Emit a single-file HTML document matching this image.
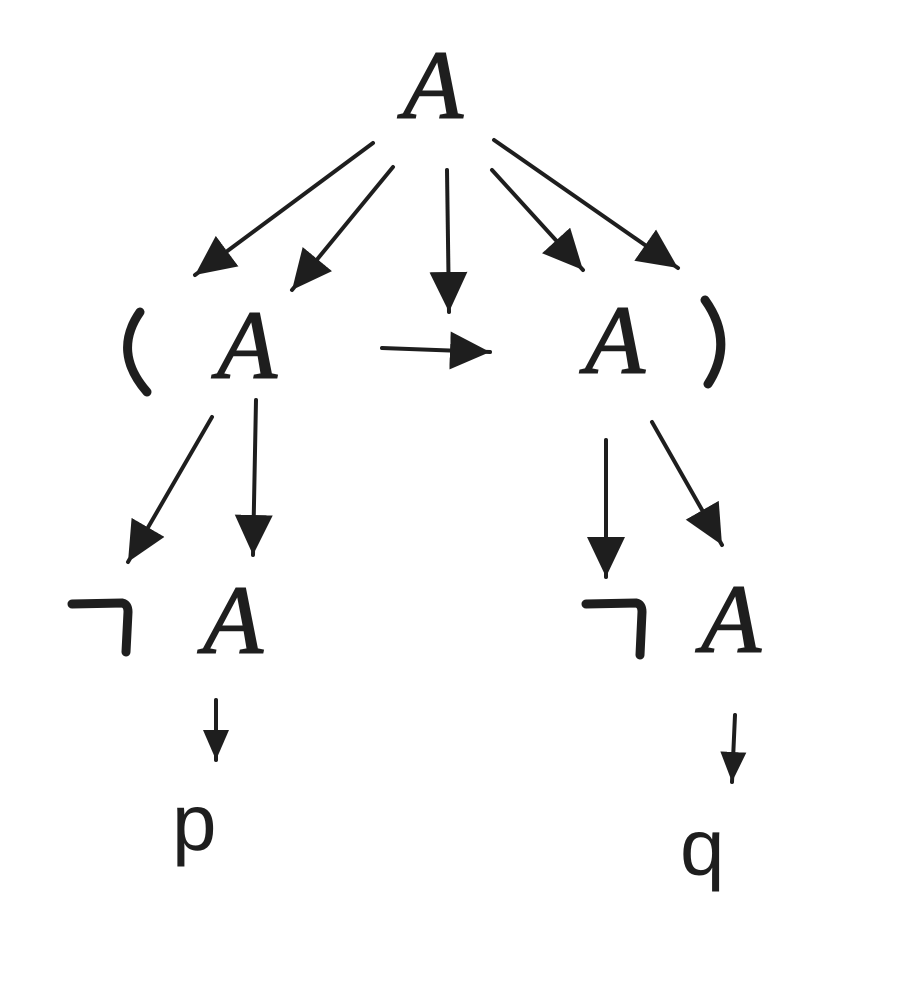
<!DOCTYPE html>
<html><head><meta charset="utf-8"><style>
html,body{margin:0;padding:0;background:#fff;}
svg{display:block}
text{font-family:"Liberation Serif",serif;font-style:italic;fill:#1e1e1e;stroke:#1e1e1e;stroke-width:1.5;}
</style></head><body>
<svg width="898" height="991" viewBox="0 0 898 991" xmlns="http://www.w3.org/2000/svg">
<defs>
<marker id="h" markerUnits="userSpaceOnUse" markerWidth="44" markerHeight="42" refX="40" refY="19" orient="auto">
<path d="M0,0 L40,19 L0,38 z" fill="#1e1e1e"/></marker>
<marker id="s" markerUnits="userSpaceOnUse" markerWidth="32" markerHeight="30" refX="30" refY="13" orient="auto">
<path d="M0,0 L30,13 L0,26 z" fill="#1e1e1e"/></marker>
</defs>
<g stroke="#1e1e1e" stroke-width="4" stroke-linecap="round" fill="none">
<line x1="373" y1="143" x2="195" y2="275" marker-end="url(#h)"/>
<line x1="393" y1="167" x2="292" y2="290" marker-end="url(#h)"/>
<line x1="447" y1="170" x2="449" y2="312" marker-end="url(#h)"/>
<line x1="492" y1="170" x2="583" y2="270" marker-end="url(#h)"/>
<line x1="494" y1="140" x2="678" y2="268" marker-end="url(#h)"/>
<line x1="382" y1="348" x2="490" y2="352" marker-end="url(#h)"/>
<line x1="212" y1="417" x2="128" y2="562" marker-end="url(#h)"/>
<line x1="256" y1="400" x2="253" y2="555" marker-end="url(#h)"/>
<line x1="606" y1="440" x2="606" y2="577" marker-end="url(#h)"/>
<line x1="652" y1="422" x2="722" y2="545" marker-end="url(#h)"/>
<line x1="216" y1="700" x2="216" y2="760" marker-end="url(#s)"/>
<line x1="735" y1="715" x2="732" y2="782" marker-end="url(#s)"/>
</g>
<g stroke="#1e1e1e" stroke-width="9" stroke-linecap="round" stroke-linejoin="round" fill="none">
<path d="M72,604 L122,603 Q128,604 128,612 L126,652"/>
<path d="M586,604 L636,603 Q642,604 642,612 L640,655"/>
<path d="M140,312 Q112,352 147,392"/>
<path d="M705,300 Q735,342 708,384"/>
</g>
<text x="403" y="118" font-size="98">A</text>
<text x="217" y="378" font-size="98">A</text>
<text x="585" y="373" font-size="98">A</text>
<text x="203" y="653" font-size="98">A</text>
<text x="701" y="652" font-size="98">A</text>
<text x="172" y="850" font-size="80" style="font-style:normal;font-family:'Liberation Sans',sans-serif;stroke-width:0">p</text>
<text x="680" y="875" font-size="80" style="font-style:normal;font-family:'Liberation Sans',sans-serif;stroke-width:0">q</text>
</svg>
</body></html>
